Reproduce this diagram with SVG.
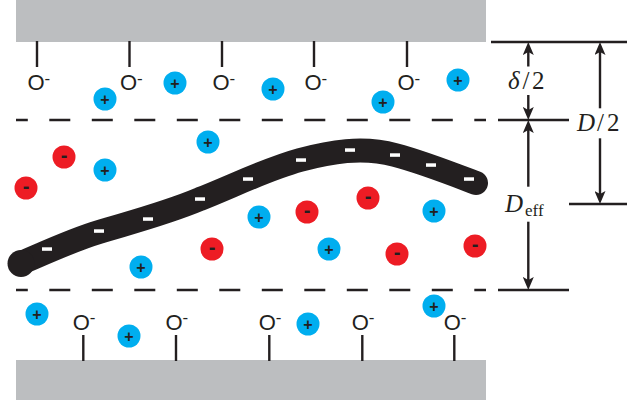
<svg xmlns="http://www.w3.org/2000/svg" width="627" height="400" viewBox="0 0 627 400">
  <style>
    .wall { fill: #bcbec0; }
    .stem { stroke: #231f20; stroke-width: 2.4; }
    .oxy { font-family: "Liberation Sans", Arial, sans-serif; font-size: 22px; fill: #231f20; }
    .sup { font-size: 17px; }
    .plane { stroke: #231f20; stroke-width: 2.6; stroke-dasharray: 21 21.5; stroke-dashoffset: 9.2; fill: none; }
    .dim { stroke: #231f20; stroke-width: 2.4; fill: none; }
    .shaft { stroke: #231f20; stroke-width: 2.4; fill: none; marker-end: url(#head); }
    .math { font-family: "Liberation Serif", "Times New Roman", serif; font-size: 25px; fill: #231f20; }
    .it { font-style: italic; }
    .sub { font-size: 17px; }
    .cation circle { fill: #00aeef; }
    .anion circle { fill: #ed1c24; }
    .sign { font-family: "Liberation Sans", Arial, sans-serif; font-weight: bold; text-anchor: middle; fill: #231f20; }
    .cation text { font-size: 16px; }
    .anion text { font-size: 20px; }
    .chain { stroke: #231f20; stroke-width: 24; stroke-linecap: round; fill: none; }
    .mark { fill: #ffffff; }
  </style>
  <defs>
    <marker id="head" viewBox="0 0 13 11" refX="7" refY="5.5" markerWidth="13" markerHeight="11" markerUnits="userSpaceOnUse" orient="auto">
      <path d="M0,0 L13,5.5 L0,11 L3,5.5 Z" fill="#231f20"/>
    </marker>
  </defs>

  <!-- upper wall with surface O- groups -->
  <g id="wall-top">
    <rect class="wall" x="16" y="0" width="470" height="42"/>
    <line class="stem" x1="37" y1="41" x2="37" y2="67"/>
    <line class="stem" x1="129.5" y1="41" x2="129.5" y2="67"/>
    <line class="stem" x1="222" y1="41" x2="222" y2="67"/>
    <line class="stem" x1="314" y1="41" x2="314" y2="67"/>
    <line class="stem" x1="407" y1="41" x2="407" y2="67"/>
    <text class="oxy" x="27.4" y="90.3">O<tspan class="sup" dy="-6.6">-</tspan></text>
    <text class="oxy" x="119.9" y="90.3">O<tspan class="sup" dy="-6.6">-</tspan></text>
    <text class="oxy" x="212.4" y="90.3">O<tspan class="sup" dy="-6.6">-</tspan></text>
    <text class="oxy" x="304.4" y="90.3">O<tspan class="sup" dy="-6.6">-</tspan></text>
    <text class="oxy" x="397.4" y="90.3">O<tspan class="sup" dy="-6.6">-</tspan></text>
  </g>

  <!-- lower wall with surface O- groups -->
  <g id="wall-bottom">
    <rect class="wall" x="16" y="360" width="470" height="40"/>
    <line class="stem" x1="83.3" y1="335" x2="83.3" y2="361"/>
    <line class="stem" x1="176" y1="335" x2="176" y2="361"/>
    <line class="stem" x1="269.3" y1="335" x2="269.3" y2="361"/>
    <line class="stem" x1="362.3" y1="335" x2="362.3" y2="361"/>
    <line class="stem" x1="454.3" y1="335" x2="454.3" y2="361"/>
    <text class="oxy" x="72.7" y="329.7">O<tspan class="sup" dy="-7">-</tspan></text>
    <text class="oxy" x="165.4" y="329.7">O<tspan class="sup" dy="-7">-</tspan></text>
    <text class="oxy" x="258.7" y="329.7">O<tspan class="sup" dy="-7">-</tspan></text>
    <text class="oxy" x="351.7" y="329.7">O<tspan class="sup" dy="-7">-</tspan></text>
    <text class="oxy" x="443.7" y="329.7">O<tspan class="sup" dy="-7">-</tspan></text>
  </g>

  <!-- shear planes -->
  <g id="planes">
    <line class="plane" x1="16" y1="120" x2="486" y2="120"/>
    <line class="plane" x1="16" y1="290" x2="486" y2="290"/>
  </g>

  <!-- charged chain -->
  <g id="chain">
    <path class="chain" d="M21,263 C38,256 72,240 99,232 C132,222 167,213 200,199 C233,186 267,169 300,160 C330,152 362,146 395,155 C422,162 455,175 476,183"/>
    <circle cx="21" cy="263.5" r="13.5" fill="#231f20"/>
    <rect class="mark" x="42" y="247.3" width="10" height="3.5"/>
    <rect class="mark" x="94" y="229.3" width="10" height="3.5"/>
    <rect class="mark" x="143" y="217.3" width="10" height="3.5"/>
    <rect class="mark" x="195" y="197.3" width="10" height="3.5"/>
    <rect class="mark" x="243" y="177.3" width="10" height="3.5"/>
    <rect class="mark" x="296" y="158.3" width="10" height="3.5"/>
    <rect class="mark" x="345" y="148.3" width="10" height="3.5"/>
    <rect class="mark" x="390" y="153.3" width="10" height="3.5"/>
    <rect class="mark" x="426" y="163.3" width="10" height="3.5"/>
    <rect class="mark" x="464" y="177.3" width="10" height="3.5"/>
  </g>

  <!-- counter-ions -->
  <g id="ion-c1" class="cation"><circle cx="105" cy="99" r="11.5"/><text class="sign" x="105" y="104.6">+</text></g>
  <g id="ion-c2" class="cation"><circle cx="175" cy="83" r="11.5"/><text class="sign" x="175" y="88.6">+</text></g>
  <g id="ion-c3" class="cation"><circle cx="273" cy="89" r="11.5"/><text class="sign" x="273" y="94.6">+</text></g>
  <g id="ion-c4" class="cation"><circle cx="383" cy="102" r="11.5"/><text class="sign" x="383" y="107.6">+</text></g>
  <g id="ion-c5" class="cation"><circle cx="458" cy="80" r="11.5"/><text class="sign" x="458" y="85.6">+</text></g>
  <g id="ion-c6" class="cation"><circle cx="208" cy="142" r="11.5"/><text class="sign" x="208" y="147.6">+</text></g>
  <g id="ion-c7" class="cation"><circle cx="105" cy="170" r="11.5"/><text class="sign" x="105" y="175.6">+</text></g>
  <g id="ion-c8" class="cation"><circle cx="259" cy="217" r="11.5"/><text class="sign" x="259" y="222.6">+</text></g>
  <g id="ion-c9" class="cation"><circle cx="434" cy="211" r="11.5"/><text class="sign" x="434" y="216.6">+</text></g>
  <g id="ion-c10" class="cation"><circle cx="141" cy="267" r="11.5"/><text class="sign" x="141" y="272.6">+</text></g>
  <g id="ion-c11" class="cation"><circle cx="329" cy="249" r="11.5"/><text class="sign" x="329" y="254.6">+</text></g>
  <g id="ion-c12" class="cation"><circle cx="37" cy="314" r="11.5"/><text class="sign" x="37" y="319.6">+</text></g>
  <g id="ion-c13" class="cation"><circle cx="129" cy="336" r="11.5"/><text class="sign" x="129" y="341.6">+</text></g>
  <g id="ion-c14" class="cation"><circle cx="308" cy="324" r="11.5"/><text class="sign" x="308" y="329.6">+</text></g>
  <g id="ion-c15" class="cation"><circle cx="434" cy="306" r="11.5"/><text class="sign" x="434" y="311.6">+</text></g>

  <g id="ion-a1" class="anion"><circle cx="64" cy="157" r="11.5"/><text class="sign" x="64" y="162.3">-</text></g>
  <g id="ion-a2" class="anion"><circle cx="26" cy="188" r="11.5"/><text class="sign" x="26" y="193.3">-</text></g>
  <g id="ion-a3" class="anion"><circle cx="212" cy="249" r="11.5"/><text class="sign" x="212" y="254.3">-</text></g>
  <g id="ion-a4" class="anion"><circle cx="307" cy="212" r="11.5"/><text class="sign" x="307" y="217.3">-</text></g>
  <g id="ion-a5" class="anion"><circle cx="368" cy="198" r="11.5"/><text class="sign" x="368" y="203.3">-</text></g>
  <g id="ion-a6" class="anion"><circle cx="397" cy="254" r="11.5"/><text class="sign" x="397" y="259.3">-</text></g>
  <g id="ion-a7" class="anion"><circle cx="475" cy="246" r="11.5"/><text class="sign" x="475" y="251.3">-</text></g>

  <!-- dimension lines -->
  <g id="dimensions">
    <line class="dim" x1="491" y1="42" x2="627" y2="42"/>
    <line class="dim" x1="498" y1="120" x2="569" y2="120"/>
    <line class="dim" x1="569" y1="204" x2="627" y2="204"/>
    <line class="dim" x1="498" y1="290" x2="569" y2="290"/>
    <!-- delta/2 -->
    <line class="shaft" x1="528.3" y1="66.5" x2="528.3" y2="48"/>
    <line class="shaft" x1="528.3" y1="95" x2="528.3" y2="114"/>
    <!-- D_eff -->
    <line class="shaft" x1="528.3" y1="186.7" x2="528.3" y2="126"/>
    <line class="shaft" x1="528.3" y1="221.7" x2="528.3" y2="284"/>
    <!-- D/2 -->
    <line class="shaft" x1="600" y1="108.3" x2="600" y2="48"/>
    <line class="shaft" x1="600" y1="138.3" x2="600" y2="198"/>
  </g>

  <g id="labels">
    <text class="math" y="89"><tspan class="it" x="508">δ</tspan><tspan x="522.5">/</tspan><tspan x="532">2</tspan></text>
    <text class="math" y="130.5"><tspan class="it" x="577">D</tspan><tspan x="597">/</tspan><tspan x="607">2</tspan></text>
    <text class="math" y="212"><tspan class="it" x="505">D</tspan><tspan class="sub" x="525" dy="3.5">eff</tspan></text>
  </g>
</svg>
